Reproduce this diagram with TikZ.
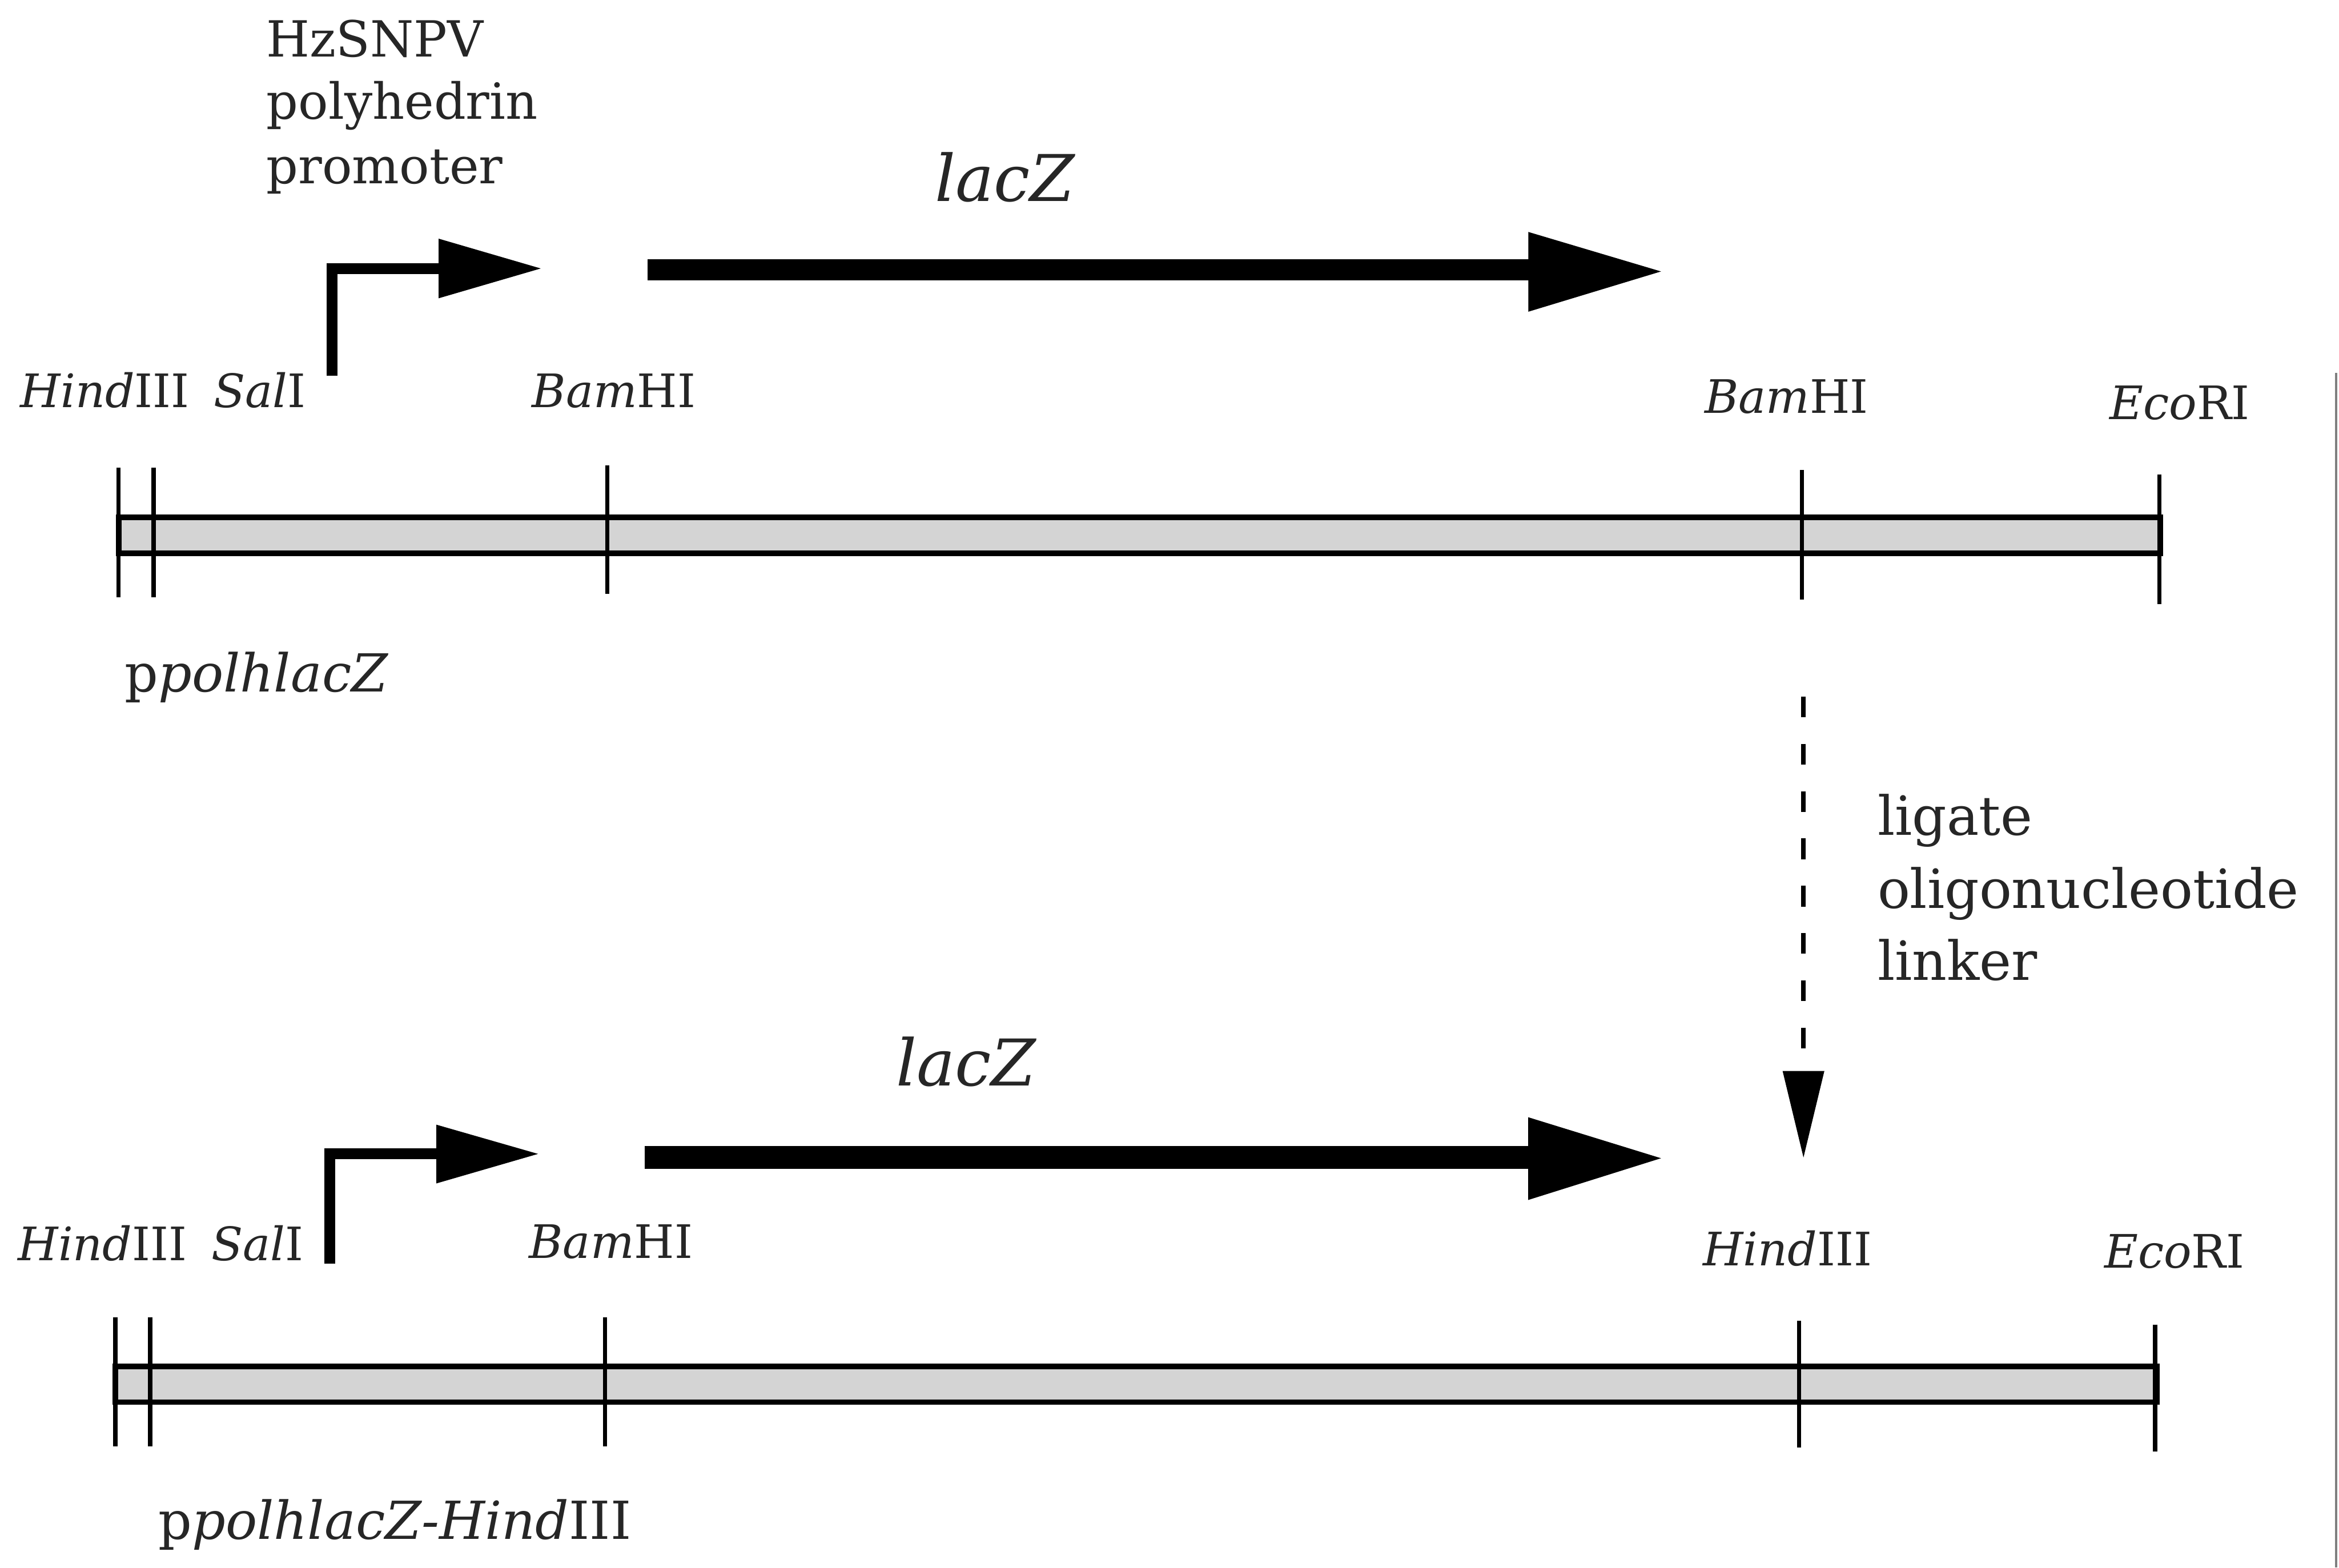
\documentclass[tikz,border=0pt]{standalone}
\usepackage{fontspec}
\setmainfont{DejaVu Serif}
\begin{document}
\begin{tikzpicture}[x=0.1mm, y=-0.1mm,
  lbl/.style={inner sep=0pt, anchor=base west, text=black!85},
  site/.style={lbl, font=\fontsize{8.8pt}{10pt}\selectfont},
  note/.style={lbl, font=\fontsize{9.5pt}{11pt}\selectfont},
  stepnote/.style={lbl, font=\fontsize{10.3pt}{12pt}\selectfont},
  gene/.style={lbl, font=\fontsize{12.3pt}{14pt}\selectfont\itshape},
  plasmid/.style={lbl, font=\fontsize{10pt}{12pt}\selectfont},
  dnabar/.style={draw=black, line width=0.38mm, fill=black!17},
  cutline/.style={draw=black, line width=0.28mm},
  promo/.style={draw=black, line width=0.74mm, line join=miter},
  solidhead/.style={fill=black},
  linkerline/.style={draw=black, line width=0.3mm, dash pattern=on 1.4mm off 1.77mm}
]
\useasboundingbox (0,0) rectangle (1568,1051);
\fill[white] (0,0) rectangle (1568,1051);

% ---------- upper construct: ppolhlacZ ----------
\node[note] (pr1) at (178,38) {HzSNPV};
\node[note] (pr2) at (178,80) {polyhedrin};
\node[note] (pr3) at (178,123) {promoter};

\node[gene] (g1) at (626,135) {lacZ};

% promoter (bent arrow)
\draw[promo] (222.5,252) -- (222.5,180) -- (296,180);
\fill[solidhead] (294,160) -- (362.5,180) -- (294,200) -- cycle;
% lacZ coding region
\fill (434,174) rectangle (1026,188);
\fill[solidhead] (1024.5,155.5) -- (1113.5,182) -- (1024.5,209) -- cycle;

% restriction sites
\node[site] (h1) at (13,273) {\textit{Hind}III};
\node[site] (s1) at (142.5,273) {\textit{Sal}I};
\node[site] (b1) at (356,273) {\textit{Bam}HI};
\node[site] (b2) at (1142,277) {\textit{Bam}HI};
\node[site] (e1) at (1413.5,281) {\textit{Eco}RI};

% plasmid bar with cut sites
\draw[dnabar] (79.5,347) rectangle (1448,371);
\foreach \x/\a/\b in {79.5/313.5/400.5, 103/313.5/400.5, 407/312/398, 1208/315/402, 1447.5/318/405}
  \draw[cutline] (\x,\a) -- (\x,\b);

\node[plasmid] (p1) at (83,463.6) {p\textit{polhlacZ}};

% ---------- linker ligation step ----------
\coordinate (ls) at (1209,467);
\coordinate (le) at (1209,706);
\draw[linkerline] (ls) -- (le);
\fill[solidhead] (1195,718) -- (1223,718) -- (1209,776) -- cycle;

\node[stepnote] (l1) at (1258,560) {ligate};
\node[stepnote] (l2) at (1258,609) {oligonucleotide};
\node[stepnote] (l3) at (1258,657) {linker};

% ---------- lower construct: ppolhlacZ-HindIII ----------
\node[gene] (g2) at (600,728) {lacZ};

\draw[promo] (221,847) -- (221,773.6) -- (294,773.6);
\fill[solidhead] (292.5,754) -- (360.7,773.6) -- (292.5,793.4) -- cycle;
\fill (432.2,768.5) rectangle (1026,783.5);
\fill[solidhead] (1024.4,749) -- (1113.5,776.5) -- (1024.4,804.5) -- cycle;

\node[site] (h2) at (11.4,845) {\textit{Hind}III};
\node[site] (s2) at (141,845) {\textit{Sal}I};
\node[site] (b3) at (354,843.5) {\textit{Bam}HI};
\node[site] (h3) at (1141,848.5) {\textit{Hind}III};
\node[site] (e2) at (1410,850) {\textit{Eco}RI};

\draw[dnabar] (77.3,916) rectangle (1446,940);
\foreach \x/\a/\b in {77.3/883/969.5, 100.7/883/969.5, 405.6/883/969.5, 1206/885.6/970.5, 1444.7/888/973}
  \draw[cutline] (\x,\a) -- (\x,\b);

\node[plasmid] (p2) at (105.6,1031.7) {p\textit{polhlacZ-Hind}III};

% page edge
\draw[black!50, line width=0.15mm] (1566,250) -- (1566,1051);
\end{tikzpicture}
\end{document}
